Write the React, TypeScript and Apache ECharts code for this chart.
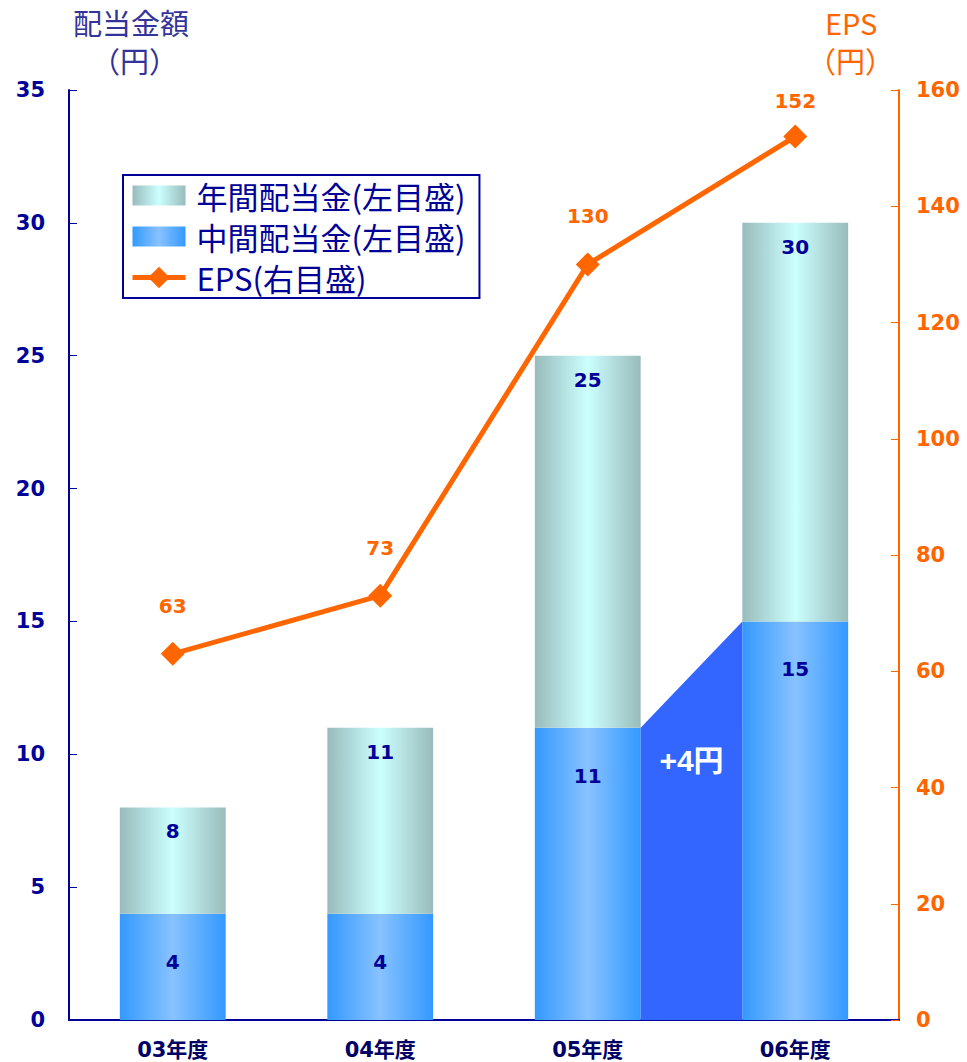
import React, { useEffect, useRef } from "react";
import * as echarts from "echarts";

const categories = ["03年度", "04年度", "05年度", "06年度"];
const interimDiv = [4, 4, 11, 15];
const annualTotal = [8, 11, 25, 30];
const annualUpper = [4, 7, 14, 15];
const eps = [63, 73, 130, 152];
const leftTicks = { min: 0, max: 35, interval: 5 };
const rightTicks = { min: 0, max: 160, interval: 20 };
const increase = { from: 2, fromValue: 11, to: 3, toValue: 15, label: "+4円" };

const NUM_FONT = '"DejaVu Sans", "Noto Sans CJK JP", sans-serif';
const JP_FONT = '"Noto Sans CJK JP", "Noto Sans", sans-serif';
const NAVY = "#000099";
const ORANGE = "#FF6600";
const BAR_RATIO = 0.51;
const BAR_ICON = "path://M0,0 L53,0 L53,20 L0,20 Z";

export default function App() {
  const ref = useRef<HTMLDivElement>(null);
  useEffect(() => {
    if (!ref.current) return;
    const chart = echarts.init(ref.current, null, { renderer: "svg" });
    const blueGrad = new echarts.graphic.LinearGradient(0, 0, 1, 0, [
      { offset: 0, color: "#3399FF" },
      { offset: 0.5, color: "#88C2FF" },
      { offset: 1, color: "#3399FF" },
    ]);
    const tealGrad = new echarts.graphic.LinearGradient(0, 0, 1, 0, [
      { offset: 0, color: "#99BBBB" },
      { offset: 0.5, color: "#CCFFFF" },
      { offset: 1, color: "#99BBBB" },
    ]);
    chart.setOption({
      animation: false,
      backgroundColor: "#FFFFFF",
      grid: { left: 69, right: 68, top: 90, bottom: 42, containLabel: false },
      graphic: [
        {
          type: "text",
          left: 73,
          top: 7,
          style: { text: "配当金額", fill: "#333399", font: `29px ${JP_FONT}` },
        },
        {
          type: "text",
          left: 91,
          top: 45,
          style: { text: "（円）", fill: "#333399", font: `29px ${JP_FONT}` },
        },
        {
          type: "text",
          left: 825,
          top: 7,
          style: { text: "EPS", fill: ORANGE, font: `29px ${JP_FONT}` },
        },
        {
          type: "text",
          left: 807,
          top: 45,
          style: { text: "（円）", fill: ORANGE, font: `29px ${JP_FONT}` },
        },
      ],
      legend: {
        orient: "vertical",
        left: 123,
        top: 175,
        data: [
          { name: "年間配当金(左目盛)", icon: BAR_ICON },
          { name: "中間配当金(左目盛)", icon: BAR_ICON },
          { name: "EPS(右目盛)" },
        ],
        backgroundColor: "#FFFFFF",
        borderColor: NAVY,
        borderWidth: 2,
        padding: [5, 14, 5, 7],
        itemWidth: 53,
        itemHeight: 27,
        itemGap: 10,
        symbolKeepAspect: true,
        lineStyle: { width: 5 },
        textStyle: { fontSize: 31, color: NAVY, fontFamily: JP_FONT, padding: [0, 0, 0, 6] },
      },
      xAxis: {
        type: "category",
        data: categories,
        axisLine: { lineStyle: { color: NAVY, width: 2 } },
        axisTick: { inside: true, length: 8, lineStyle: { color: NAVY, width: 1 } },
        axisLabel: {
          color: "#000066",
          fontWeight: "bold",
          fontSize: 21,
          fontFamily: NUM_FONT,
          margin: 19,
        },
      },
      yAxis: [
        {
          type: "value",
          ...leftTicks,
          axisLine: { show: true, lineStyle: { color: NAVY, width: 2 } },
          axisTick: { show: true, inside: true, length: 8, lineStyle: { color: NAVY } },
          splitLine: { show: false },
          axisLabel: {
            color: NAVY,
            fontWeight: "bold",
            fontSize: 21,
            fontFamily: NUM_FONT,
            margin: 24,
          },
        },
        {
          type: "value",
          ...rightTicks,
          position: "right",
          axisLine: { show: true, lineStyle: { color: ORANGE, width: 2 } },
          axisTick: { show: true, inside: true, length: 8, lineStyle: { color: ORANGE } },
          splitLine: { show: false },
          axisLabel: {
            color: ORANGE,
            fontWeight: "bold",
            fontSize: 21,
            fontFamily: NUM_FONT,
            margin: 17,
          },
        },
      ],
      series: [
        {
          name: "中間配当金(左目盛)",
          type: "bar",
          stack: "div",
          barWidth: BAR_RATIO * 100 + "%",
          data: interimDiv,
          itemStyle: { color: blueGrad },
          label: {
            show: true,
            position: "insideTop",
            distance: 38,
            color: NAVY,
            fontWeight: "bold",
            fontSize: 20,
            fontFamily: NUM_FONT,
          },
        },
        {
          name: "年間配当金(左目盛)",
          type: "bar",
          stack: "div",
          barWidth: BAR_RATIO * 100 + "%",
          data: annualUpper,
          itemStyle: { color: tealGrad },
          label: {
            show: true,
            position: "insideTop",
            distance: 14,
            color: NAVY,
            fontWeight: "bold",
            fontSize: 20,
            fontFamily: NUM_FONT,
            formatter: (p: any) => String(annualTotal[p.dataIndex]),
          },
        },
        {
          name: "increase",
          type: "custom",
          z: 3,
          data: [[increase.from, increase.fromValue, increase.to, increase.toValue]],
          renderItem: (params: any, api: any) => {
            const a = api.value(0);
            const av = api.value(1);
            const b = api.value(2);
            const bv = api.value(3);
            const bw = api.size([1, 0])[0] * BAR_RATIO;
            const pTop = api.coord([a, av]);
            const pBot = api.coord([a, 0]);
            const qTop = api.coord([b, bv]);
            const qBot = api.coord([b, 0]);
            const x1 = pTop[0] + bw / 2;
            const x2 = qTop[0] - bw / 2;
            return {
              type: "group",
              children: [
                {
                  type: "polygon",
                  shape: {
                    points: [
                      [x1, pTop[1]],
                      [x1, pBot[1]],
                      [x2, qBot[1]],
                      [x2, qTop[1]],
                    ],
                  },
                  style: { fill: "#3366FF" },
                },
                {
                  type: "text",
                  x: (x1 + x2) / 2,
                  y: pTop[1] + 33,
                  style: {
                    text: increase.label,
                    fill: "#FFFFFF",
                    font: `bold 30px "Liberation Sans", "Noto Sans CJK JP", sans-serif`,
                    textAlign: "center",
                    textVerticalAlign: "middle",
                  },
                },
              ],
            };
          },
        },
        {
          name: "EPS(右目盛)",
          type: "line",
          yAxisIndex: 1,
          data: eps.map((v, i) =>
            i === eps.length - 1 ? { value: v, label: { distance: 14 } } : v
          ),
          symbol: "diamond",
          symbolSize: 24,
          z: 5,
          lineStyle: { color: ORANGE, width: 5 },
          itemStyle: { color: ORANGE },
          label: {
            show: true,
            position: "top",
            distance: 26,
            color: ORANGE,
            fontWeight: "bold",
            fontSize: 20,
            fontFamily: NUM_FONT,
          },
        },
      ],
    });
    return () => chart.dispose();
  }, []);
  return (
    <div
      ref={ref}
      style={{ position: "absolute", left: 0, top: 0, width: 967, height: 1062 }}
    />
  );
}
